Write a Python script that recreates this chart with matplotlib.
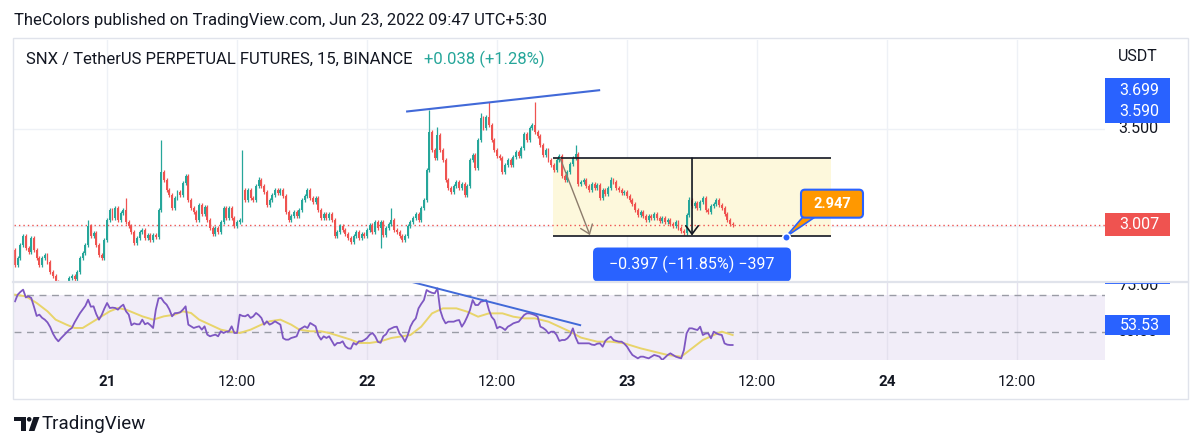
import numpy as np
import pandas as pd
import matplotlib
matplotlib.use('Agg')
import matplotlib.pyplot as plt
from matplotlib.patches import Rectangle, FancyBboxPatch, Polygon, Circle

plt.rcParams['font.family'] = ['Roboto', 'DejaVu Sans']

# ---------------- data ----------------
start_time = '2022-06-20 15:30'          # first 15-min bar
first_open = 2.879
closes = [
    2.802, 2.838, 2.904, 2.951, 2.889, 2.868, 2.940, 2.879, 2.838, 2.802,
    2.838, 2.853, 2.817, 2.766, 2.745, 2.714, 2.683, 2.663, 2.673, 2.694,
    2.735, 2.745, 2.730, 2.766, 2.838, 2.863, 2.904, 3.002, 2.951, 2.966,
    2.904, 2.853, 2.838, 2.930, 3.033, 3.084, 3.043, 3.094, 3.033, 3.069,
    3.084, 3.022, 3.002, 2.971, 2.915, 2.940, 2.971, 2.981, 2.940, 2.956,
    2.930, 2.956, 2.945, 3.084, 3.279, 3.238, 3.187, 3.161, 3.094, 3.146,
    3.177, 3.161, 3.223, 3.259, 3.135, 3.094, 3.074, 3.033, 3.110, 3.064,
    3.099, 3.033, 2.992, 2.961, 2.992, 2.971, 3.022, 3.094, 3.043, 3.094,
    3.043, 3.002, 3.022, 3.033, 3.187, 3.135, 3.187, 3.146, 3.135, 3.207,
    3.238, 3.207, 3.177, 3.110, 3.135, 3.161, 3.187, 3.171, 3.187, 3.156,
    3.074, 3.033, 3.053, 3.074, 3.053, 3.084, 3.135, 3.156, 3.187, 3.146,
    3.125, 3.146, 3.084, 3.043, 3.064, 3.043, 3.064, 3.033, 2.951, 2.971,
    3.002, 2.981, 2.961, 2.940, 2.920, 2.951, 2.971, 2.940, 2.961, 2.951,
    2.981, 3.007, 2.971, 3.022, 2.992, 3.022, 2.956, 2.992, 3.012, 3.033,
    2.981, 2.971, 2.951, 2.930, 2.951, 3.002, 3.022, 3.043, 3.064, 3.033,
    3.094, 3.135, 3.290, 3.485, 3.392, 3.351, 3.469, 3.392, 3.341, 3.238,
    3.197, 3.177, 3.207, 3.228, 3.197, 3.218, 3.161, 3.207, 3.341, 3.367,
    3.300, 3.444, 3.557, 3.505, 3.562, 3.521, 3.444, 3.392, 3.361, 3.351,
    3.279, 3.315, 3.341, 3.315, 3.356, 3.382, 3.361, 3.402, 3.474, 3.444,
    3.505, 3.521, 3.485, 3.464, 3.418, 3.367, 3.392, 3.341, 3.315, 3.290,
    3.341, 3.361, 3.259, 3.238, 3.279, 3.320, 3.351, 3.372, 3.218, 3.228,
    3.238, 3.207, 3.187, 3.218, 3.197, 3.212, 3.146, 3.187, 3.166, 3.197,
    3.238, 3.228, 3.197, 3.187, 3.171, 3.177, 3.156, 3.135, 3.115, 3.084,
    3.058, 3.074, 3.053, 3.033, 3.053, 3.043, 3.064, 3.043, 3.028, 3.043,
    3.022, 3.033, 3.012, 3.002, 3.022, 2.992, 2.976, 2.966, 3.058, 3.135,
    3.105, 3.120, 3.094, 3.125, 3.146, 3.084, 3.074, 3.105, 3.115, 3.135,
    3.110, 3.094, 3.064, 3.033, 3.012, 3.007,
]
# notable wick extremes (bar index -> price)
wick_high = {27: 3.033, 41: 3.146, 54: 3.444, 84: 3.392, 90: 3.253, 139: 3.094,
             153: 3.600, 156: 3.510, 172: 3.582, 175: 3.638, 192: 3.640,
             207: 3.418, 220: 3.253, 249: 3.151}
wick_low = {135: 2.889, 247: 2.956}

rsi = [
    66.4, 70.0, 71.5, 72.7, 68.5, 69.1, 68.2, 63.5, 58.5, 59.2,
    57.5, 56.5, 55.0, 52.5, 49.0, 46.5, 44.8, 46.5, 48.0, 49.5,
    51.0, 52.0, 55.0, 57.5, 60.0, 62.0, 64.0, 67.3, 63.5, 63.7,
    59.5, 56.5, 59.0, 62.5, 65.5, 62.8, 63.0, 62.8, 61.9, 63.5,
    64.6, 61.0, 59.2, 53.5, 54.5, 54.0, 54.0, 56.5, 54.0, 54.7,
    53.5, 52.0, 61.9, 68.0, 68.2, 66.0, 64.6, 62.0, 58.3, 60.0,
    60.1, 60.5, 61.9, 63.7, 53.8, 52.9, 52.0, 52.5, 52.9, 51.1,
    52.9, 48.4, 47.5, 48.0, 48.4, 47.5, 50.2, 49.3, 50.0, 50.2,
    52.9, 49.3, 49.3, 59.2, 58.5, 58.3, 59.2, 57.4, 58.3, 60.1,
    59.0, 57.4, 53.8, 55.6, 53.8, 54.5, 55.6, 54.7, 53.8, 46.5,
    45.7, 45.7, 46.6, 47.0, 47.5, 51.1, 52.0, 52.9, 52.0, 54.7,
    53.8, 52.9, 48.0, 45.7, 47.5, 46.6, 47.5, 45.0, 42.5, 43.9,
    43.9, 44.8, 42.1, 41.0, 40.8, 43.9, 43.0, 44.8, 44.8, 45.5,
    46.6, 48.4, 49.3, 47.5, 44.5, 44.0, 47.5, 48.6, 51.1, 51.8,
    52.5, 52.7, 49.0, 47.3, 44.6, 48.0, 52.7, 55.5, 57.2, 62.6,
    65.0, 67.1, 72.5, 71.6, 71.0, 70.7, 73.4, 61.7, 57.2, 54.5,
    55.4, 55.4, 55.4, 56.0, 56.3, 52.7, 55.0, 58.1, 61.7, 67.1,
    64.4, 64.4, 66.2, 66.5, 67.1, 61.7, 58.0, 56.3, 51.8, 52.7,
    52.0, 50.9, 52.7, 53.5, 54.5, 55.0, 55.4, 57.2, 59.0, 59.9,
    59.9, 59.5, 59.0, 58.1, 52.7, 52.0, 50.9, 49.1, 50.0, 50.0,
    48.2, 45.0, 45.5, 45.5, 46.4, 48.2, 51.8, 47.0, 43.7, 43.7,
    43.7, 43.7, 43.7, 43.0, 42.8, 43.5, 43.7, 41.9, 45.0, 46.4,
    47.3, 45.5, 45.0, 44.6, 44.6, 43.5, 41.9, 39.5, 37.4, 36.5,
    35.6, 36.5, 36.5, 36.0, 35.6, 36.5, 37.4, 37.0, 36.5, 34.7,
    36.0, 37.4, 38.3, 37.4, 36.5, 36.0, 35.6, 40.0, 49.1, 51.8,
    51.8, 51.3, 50.9, 52.7, 48.2, 49.0, 49.1, 46.4, 50.0, 49.1,
    48.5, 48.2, 43.7, 43.0, 42.8, 42.8,
]
rsi_ma_bars = [0, 4, 8, 12, 15, 19, 22, 25, 28, 31, 35, 38, 41, 44, 47, 51, 55, 59, 62, 65,
               68, 72, 76, 79, 83, 87, 91, 94, 98, 102, 105, 109, 113, 116, 120, 124, 127,
               131, 135, 139, 146, 150, 154, 158, 163, 167, 171, 175, 180, 184, 188, 192,
               197, 201, 205, 209, 215, 220, 225, 231, 236, 241, 246, 250, 254, 258, 261, 265]
rsi_ma = [70.0, 69.1, 65.5, 61.0, 56.5, 53.8, 52.0, 52.0, 54.7, 57.4,
          61.0, 62.8, 61.9, 60.1, 58.3, 56.5, 58.3, 59.2, 61.0, 60.1,
          56.5, 53.8, 51.1, 50.2, 49.3, 51.1, 53.8, 55.6, 56.5, 53.8,
          51.1, 50.2, 50.2, 49.3, 47.5, 45.7, 43.9, 43.9, 44.8, 46.6,
          48.2, 52.7, 59.9, 62.6, 62.6, 60.8, 58.1, 59.9, 59.9, 58.1,
          57.2, 57.2, 55.4, 52.7, 50.0, 46.8, 44.6, 44.6, 43.7, 41.0,
          39.2, 37.4, 36.5, 41.0, 45.5, 48.2, 50.0, 48.2]

tick_times = ['2022-06-21 00:00', '2022-06-21 12:00', '2022-06-22 00:00', '2022-06-22 12:00',
              '2022-06-23 00:00', '2022-06-23 12:00', '2022-06-24 00:00', '2022-06-24 12:00']
tick_labels = ['21', '12:00', '22', '12:00', '23', '12:00', '24', '12:00']
price_ticks = [3.0, 3.5]
price_tick_labels = ['3.000', '3.500']
rsi_ticks = [50, 75]
rsi_tick_labels = ['50.00', '75.00']
last_price = 3.007

# drawings (bar index, value)
trend_price_x = [144.8, 215.7]
trend_price_y = [3.590, 3.699]
trend_rsi_x = [146.2, 208.7]
trend_rsi_y = [77.0, 53.53]
range_x = [198.7, 301.3]
range_y = [3.350, 2.953]
range_text = '\u22120.397 (\u221211.85%) \u2212397'
diag_x = [201.3, 212.3]
diag_y = [3.350, 2.955]
note_x, note_y, note_text = 284.7, 2.947, '2.947'

# ---------------- style ----------------
GREEN, RED = '#26a69a', '#ef5350'
BLUE = '#2962ff'
TXT = '#131722'
GRID = '#eef1f6'
BORDER = '#e0e3eb'

W, H = 1200, 448
fig = plt.figure(figsize=(W / 100, H / 100), dpi=100)


def fr(x0, y0, x1, y1):
    return [x0 / W, 1 - y1 / H, (x1 - x0) / W, (y1 - y0) / H]


ax_p = fig.add_axes(fr(14, 40, 1105, 281))
ax_r = fig.add_axes(fr(14, 283, 1105, 360), sharex=ax_p)
ax_ps = fig.add_axes(fr(1105, 40, 1187, 281), sharey=ax_p)
ax_rs = fig.add_axes(fr(1105, 283, 1187, 360), sharey=ax_r)

for a in (ax_p, ax_r, ax_ps, ax_rs):
    for s in a.spines.values():
        s.set_visible(False)
    a.set_facecolor('white')

# time -> bar index
t0 = pd.Timestamp(start_time)
tick_pos = [(pd.Timestamp(t) - t0) / pd.Timedelta('15min') for t in tick_times]

ax_p.set_xlim(-0.37, 402.5)
ax_p.set_ylim(2.7194, 3.957)
ax_r.set_ylim(34.7, 76.3)

# grids
ax_p.set_xticks(tick_pos)
ax_p.set_yticks(price_ticks)
ax_p.grid(True, color=GRID, lw=1)
ax_p.set_axisbelow(True)
ax_p.tick_params(length=0, labelbottom=False, labelleft=False)
ax_r.grid(True, axis='x', color='#e4e1ee', lw=1)
ax_r.set_axisbelow(True)
ax_r.set_yticks([])

# ---------------- candles ----------------
n = len(closes)
x = np.arange(n)
c = np.array(closes)
o = np.r_[first_open, c[:-1]]
top = np.maximum(o, c)
bot = np.minimum(o, c)
hi = top + 0.010
lo = bot - 0.010
for k, v in wick_high.items():
    hi[k] = max(hi[k], v)
for k, v in wick_low.items():
    lo[k] = min(lo[k], v)
cols = np.where(c >= o, GREEN, RED)

# range (measure) box under candles
ax_p.add_patch(Rectangle((range_x[0], range_y[1]), range_x[1] - range_x[0],
                         range_y[0] - range_y[1], fc='#fdf8dc', ec='none', zorder=1))

ax_p.vlines(x, lo, hi, colors=cols, lw=0.9, zorder=3)
ax_p.bar(x, np.maximum(top - bot, 0.003), bottom=bot, width=0.72, color=cols, lw=0, zorder=3)

ax_p.axhline(last_price, color=RED, ls=(0, (1, 2.2)), lw=1, zorder=2)

# range box lines and arrows
for yy in range_y:
    ax_p.plot(range_x, [yy, yy], color=TXT, lw=1.2, zorder=4, solid_capstyle='butt')
mid = (range_x[0] + range_x[1]) / 2
ax_p.annotate('', xy=(mid, range_y[1]), xytext=(mid, range_y[0]),
              arrowprops=dict(arrowstyle='->,head_length=0.6,head_width=0.45', color=TXT,
                              lw=1.2, shrinkA=0, shrinkB=0), zorder=4)
ax_p.annotate('', xy=(diag_x[1], diag_y[1]), xytext=(diag_x[0], diag_y[0]),
              arrowprops=dict(arrowstyle='->,head_length=0.6,head_width=0.45', color='#8c7c6c',
                              lw=1.0, shrinkA=0, shrinkB=0), zorder=4)

# trend line on price
ax_p.plot(trend_price_x, trend_price_y, color='#4169d8', lw=1.5, zorder=5)

# range label
px_x = 1 / 2.708     # bars per pixel
px_y = 0.005136      # price per pixel
lab_w, lab_h = 198 * px_x, 34 * px_y
lab_top = range_y[1] - 12 * px_y
ax_p.add_patch(FancyBboxPatch((mid - lab_w / 2, lab_top - lab_h), lab_w, lab_h,
                              boxstyle='round,pad=0,rounding_size=%f' % (5 * px_x),
                              mutation_aspect=px_y / px_x, fc=BLUE, ec='none', zorder=6))
ax_p.text(mid, lab_top - lab_h / 2, range_text, color='white', fontsize=11.5,
          ha='center', va='center', zorder=7)

# note callout
bx0 = note_x + 15 * px_x
bw, bh = 62 * px_x, 28 * px_y
by0 = note_y + 19 * px_y
ax_p.add_patch(Polygon([(note_x, note_y), (bx0 + 3 * px_x, by0 + 2 * px_y),
                        (bx0 + 16 * px_x, by0 + 2 * px_y)], closed=True,
                       fc='#ff9800', ec=BLUE, lw=1.2, zorder=6))
ax_p.add_patch(FancyBboxPatch((bx0, by0), bw, bh,
                              boxstyle='round,pad=0,rounding_size=%f' % (4 * px_x),
                              mutation_aspect=px_y / px_x, fc='#ff9800', ec=BLUE, lw=1.5, zorder=7))
ax_p.text(bx0 + bw / 2, by0 + bh / 2, note_text, color='white', fontsize=10.5,
          fontweight='bold', ha='center', va='center', zorder=8)
ax_p.plot([note_x], [note_y], 'o', ms=5.5, mfc=BLUE, mec='white', mew=1.2, zorder=8)

# ---------------- RSI ----------------
ax_r.axhspan(30, 70, color='#7e57c2', alpha=0.1, lw=0, zorder=0.5)
for lv in (70, 50):
    ax_r.axhline(lv, color='#9a9ca6', ls=(0, (5, 4)), lw=1, zorder=1)
ax_r.plot(rsi_ma_bars, rsi_ma, color='#e8d46a', lw=1.4, zorder=2)
ax_r.plot(x, rsi, color='#7e57c2', lw=1.3, zorder=3)
ax_r.plot(trend_rsi_x, trend_rsi_y, color='#4169d8', lw=1.4, zorder=4)

ax_r.set_xticks(tick_pos)
ax_r.set_xticklabels(tick_labels)
ax_r.tick_params(axis='x', length=0, pad=10.5, labelsize=11, labelcolor=TXT)
for lbl in ax_r.get_xticklabels():
    if ':' not in lbl.get_text():
        lbl.set_fontweight('bold')

# ---------------- scales ----------------
for a in (ax_ps, ax_rs):
    a.set_xlim(0, 1)
    a.tick_params(left=False, labelleft=False, bottom=False, labelbottom=False)
    a.grid(False)

SFS = 11.5
for v, s in zip(price_ticks, price_tick_labels):
    ax_ps.text(0.16, v, s, fontsize=SFS, color=TXT, va='center', ha='left', clip_on=True)
ax_ps.text(0.40, 3.870, 'USDT', fontsize=SFS, color=TXT, va='center', ha='center')


def scale_label(a, v, s, fc, half_h):
    a.add_patch(Rectangle((0, v - half_h), 0.79, 2 * half_h, fc=fc, ec='none', zorder=5,
                          clip_on=True))
    a.text(0.42, v, s, fontsize=SFS, color='white', va='center', ha='center', zorder=6,
           clip_on=True)


scale_label(ax_ps, trend_price_y[1], '%.3f' % trend_price_y[1], BLUE, 11.8 * px_y)
scale_label(ax_ps, trend_price_y[0], '%.3f' % trend_price_y[0], BLUE, 11.5 * px_y)
scale_label(ax_ps, last_price, '%.3f' % last_price, RED, 11.5 * px_y)

rpx = 1 / 1.85
for v, s in zip(rsi_ticks, rsi_tick_labels):
    ax_rs.text(0.16, v, s, fontsize=SFS, color=TXT, va='center', ha='left', clip_on=True)
scale_label(ax_rs, trend_rsi_y[1], '%.2f' % trend_rsi_y[1], BLUE, 10 * rpx)
scale_label(ax_rs, trend_rsi_y[0] + 9 * rpx, '%.2f' % trend_rsi_y[0], BLUE, 11.5 * rpx)

# ---------------- chrome ----------------
ov = fig.add_axes([0, 0, 1, 1], zorder=10)
ov.set_xlim(0, W)
ov.set_ylim(H, 0)
ov.axis('off')
ov.patch.set_alpha(0)
ov.add_patch(Rectangle((12.5, 38.5), 1175, 361, fill=False, ec=BORDER, lw=1))
ov.plot([12.5, 1187.5], [282, 282], color=BORDER, lw=1.6)

ov.text(14, 20, 'TheColors published on TradingView.com, Jun 23, 2022 09:47 UTC+5:30',
        fontsize=12, color=TXT, va='center', ha='left')
ov.text(26, 59, 'SNX / TetherUS PERPETUAL FUTURES, 15, BINANCE', fontsize=12,
        color=TXT, va='center', ha='left')
ov.text(424, 59, '+0.038 (+1.28%)', fontsize=12, color=GREEN, va='center', ha='left')

# TradingView logo
ov.add_patch(Polygon([(14, 417), (25.5, 417), (25.5, 431), (20.5, 431), (20.5, 421.5), (14, 421.5)],
                     closed=True, fc=TXT, ec='none'))
ov.add_patch(Circle((29.2, 419.3), 2.3, fc=TXT, ec='none'))
ov.add_patch(Polygon([(33.5, 417), (39.5, 417), (34.5, 431), (28.8, 431)], closed=True,
                     fc=TXT, ec='none'))
ov.text(42, 424, 'TradingView', fontsize=13.5, color=TXT, va='center', ha='left')

fig.savefig('out.png', dpi=100)
